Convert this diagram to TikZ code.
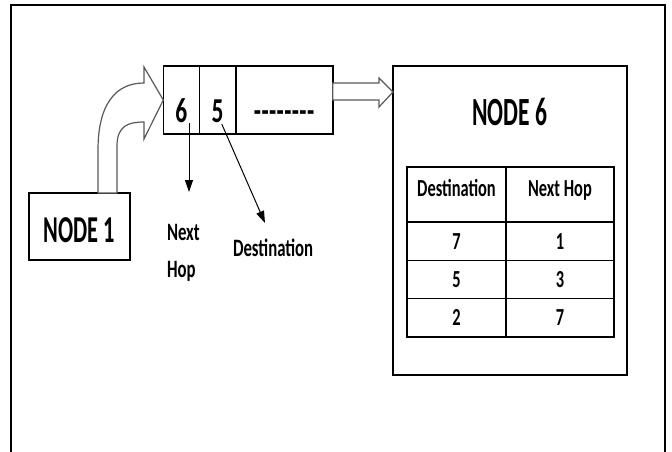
\documentclass[tikz,border=0pt]{standalone}
\usepackage{fontspec}
\setmainfont{Carlito}[FakeStretch=0.67]
\newfontfamily\capsfont{Carlito}[FakeStretch=0.59]
\usetikzlibrary{arrows.meta,positioning,calc}
\newcommand\hyph{-\kern0.4pt}

\begin{document}
\begin{tikzpicture}[x=1pt,y=-1pt,>={Triangle[length=12pt,width=8pt]},
  every node/.style={font=\bfseries,inner sep=0pt,outer sep=0pt},
  box/.style={draw,line width=1.5pt},
  pkt/.style={box,text height=56pt,text depth=12pt,font=\bfseries\fontsize{35}{40}\selectfont},
  cell/.style={box,minimum height=38.3pt,font=\bfseries\fontsize{24.5}{28}\selectfont},
  head/.style={cell,text height=29pt,text depth=26pt},
  lbl/.style={font=\bfseries\fontsize{25}{28}\selectfont},
  hollow/.style={draw=black!65,line width=1.2pt,fill=white,line join=miter}]
\useasboundingbox (0,0) rectangle (672,452);
\draw[line width=2.5pt] (11,452) -- (11,5) -- (665,5) -- (665,452);

\node[box,minimum width=101pt,text height=49.5pt,text depth=17.5pt,font=\capsfont\bfseries\fontsize{38}{42}\selectfont] (n1) at (79.5,226.5) {NODE 1};

% packet
\node[pkt,minimum width=36pt] (c6) at (181.3,100) {6};
\node[pkt,minimum width=36.5pt,right=0pt of c6] (c5) {5};
\node[pkt,minimum width=97pt,right=0pt of c5] (cdots) {\hyph\hyph\hyph\hyph\hyph\hyph\hyph\hyph};

% node 6 with its table
\node[box,minimum width=234pt,text height=59pt,text depth=250pt,font=\capsfont\bfseries\fontsize{40}{44}\selectfont] (n6) at (510,220.5) {NODE 6};
\node[head,minimum width=99pt] (hd) at (456.5,194.5) {Destination};
\node[head,minimum width=108pt,right=0pt of hd] (hh) {Next Hop};
\node[cell,minimum width=99pt,below=0pt of hd] (d1) {7};
\node[cell,minimum width=108pt,below=0pt of hh] (h1) {1};
\node[cell,minimum width=99pt,below=0pt of d1] (d2) {5};
\node[cell,minimum width=108pt,below=0pt of h1] (h2) {3};
\node[cell,minimum width=99pt,below=0pt of d2] (d3) {2};
\node[cell,minimum width=108pt,below=0pt of h2] (h3) {7};

% block arrows
\draw[hollow] ([xshift=18.5pt]n1.north) -- (98,150) .. controls (98,105) and (115,83) .. (144,83) -- (144,67) -- (c6.west) -- (144,139) -- (144,122) .. controls (128,122) and (117,126) .. (117,146) -- ([xshift=37.5pt]n1.north) -- cycle;
\draw[hollow] (cdots.east |- 0,83) -- (379,83) -- (379,78) -- (n6.west |- 0,92) -- (379,107) -- (379,100) -- (cdots.east) -- cycle;

% field labels
\node[lbl,anchor=north west,align=left] (nh) at (167,224) {Next\\[9pt]Hop};
\node[lbl,anchor=base west] (dst) at (233,256) {Destination};
\coordinate (nhtip) at (189,192);
\coordinate (dsttip) at (265,223);
\draw[->,line width=1pt] ([xshift=7.7pt,yshift=11pt]c6.south) -- (nhtip);
\draw[->,line width=1pt] ([xshift=4.2pt,yshift=10pt]c5.south) -- (dsttip);
\end{tikzpicture}
\end{document}
